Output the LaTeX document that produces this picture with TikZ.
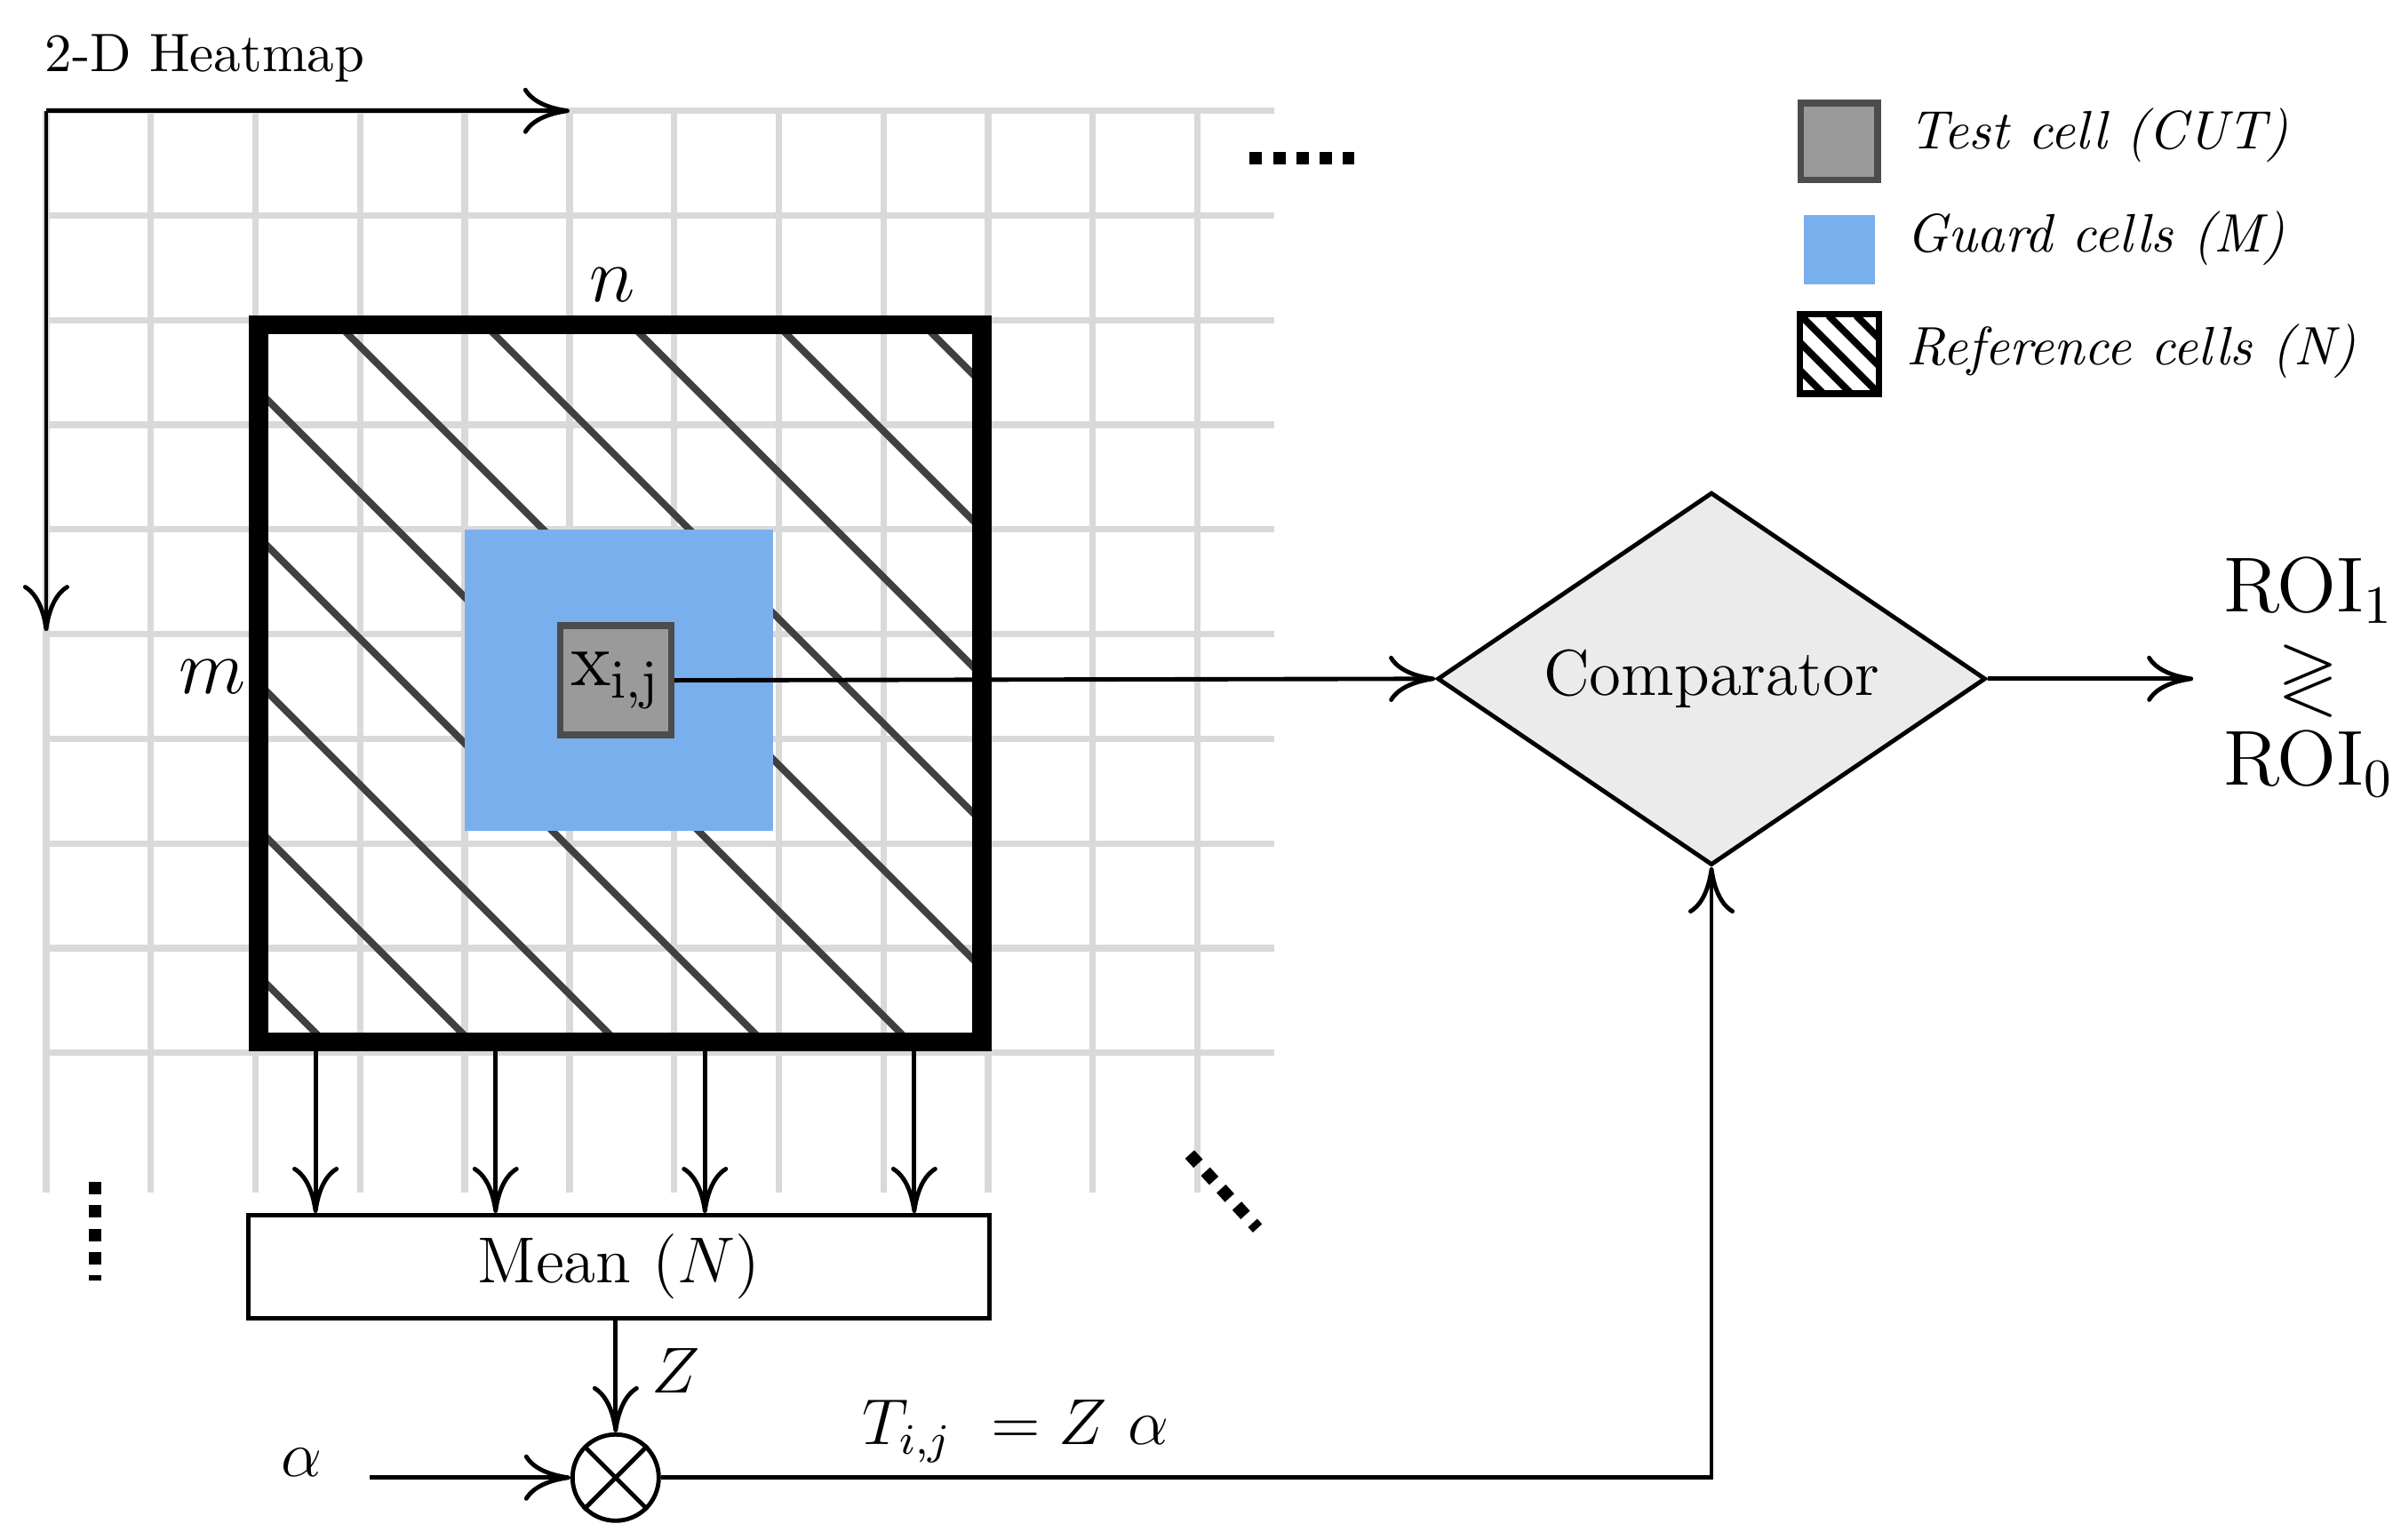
\documentclass[tikz,border=0pt]{standalone}
\usepackage{amsmath,amssymb}
\usetikzlibrary{shapes.geometric,arrows.meta}
\definecolor{guard}{HTML}{7AAFEE}
\definecolor{cut}{HTML}{9A9A9A}
\definecolor{comp}{HTML}{EBEBEB}
\begin{document}
\begin{tikzpicture}[x=0.01cm,y=-0.01cm,
        every node/.style={font=\large},
        arr/.style={-{To[length=3mm,width=3mm]},thick},
        grid/.style={line width=1.2pt,black!15},
        hatch/.style={line width=1.3pt,black!75},
        dots/.style={line width=2.3pt,dash pattern=on 2.3pt off 2pt},
        cell/.style={minimum width=0.5cm,minimum height=0.5cm,inner sep=0pt},
        leg/.style={anchor=west,font=\normalsize\itshape}]
      \useasboundingbox (0,0) rectangle (1560,1000);
      % grid of the heatmap
      \foreach \x in {30,98,...,778} \draw[grid] (\x,72) -- (\x,775);
      \foreach \y in {72,140,...,750} \draw[grid] (30,\y) -- (828,\y);
      % reference window
      \begin{scope}
        \clip (168,211) rectangle (638,677);
        \foreach \s in {-350,-255,...,600} \draw[hatch] (\s,211) -- ++(700,700);
      \end{scope}
      \node[fill=guard,minimum width=2cm,minimum height=1.96cm,inner sep=0pt] (guard) at (402,442) {};
      \node[draw=black!70,very thick,fill=cut,minimum width=0.72cm,minimum height=0.71cm,inner sep=0pt] (x) at (400,442) {\Large$\mathrm{x}_{\mathrm{i,j}}$};
      \draw[line width=3.5pt] (168,211) rectangle (638,677);
      \coordinate (w1) at (205,677); \coordinate (w2) at (322,677);
      \coordinate (w3) at (458,677); \coordinate (w4) at (594,677);
      % axes and labels
      \coordinate (o) at (30,72);
      \coordinate (ox) at (370,72); \coordinate (oy) at (30,410);
      \draw[arr] (o) -- (ox); \draw[arr] (o) -- (oy);
      \node[font=\normalsize] (title) at (133,38) {2-D Heatmap};
      \node[font=\Large] (n) at (398,185) {$n$};
      \node[font=\Large] (m) at (138,440) {$m$};
      \draw[dots] (812,103) -- (880,103);
      \draw[dots] (62,768) -- (62,832);
      \draw[dots] (773,750) -- (817,798);
      % mean and threshold
      \node[draw,thick,minimum width=4.81cm,minimum height=0.67cm] (mean) at (402,823) {Mean $(N)$};
      \foreach \i in {1,...,4} \draw[arr] (w\i) -- (w\i |- mean.north);
      \node[draw,thick,circle,minimum size=0.56cm,inner sep=0pt] (mul) at (400,960) {};
      \draw[thick] (mul.north east) -- (mul.south west) (mul.north west) -- (mul.south east);
      \draw[arr] (mean.south -| mul) -- (mul.north) node[pos=0.45,right=3pt] {$Z$};
      \node (alpha) at (196,950) {$\alpha$};
      \coordinate (a0) at (240,960);
      \draw[arr] (a0) -- (mul.west);
      \node (thr) at (660,930) {$T_{i,j}\ = Z\ \alpha$};
      % comparator
      \node[draw,thick,diamond,fill=comp,aspect=1.47,minimum width=3.56cm,minimum height=2.42cm,inner sep=0pt] (comp) at (1112,441) {Comparator};
      \draw[arr] (x.east) -- (comp.west);
      \draw[arr] (mul.east) -| (comp.south);
      \coordinate (out) at (1425,441);
      \draw[arr] (comp.east) -- (out);
      \node[font=\Large] (roi) at (1500,441) {$\begin{array}{c}\mathrm{ROI}_1\\[-2pt]\gtrless\\[-2pt]\mathrm{ROI}_0\end{array}$};
      % legend
      \node[draw=black!70,very thick,fill=cut,cell] (l1) at (1195,92) {};
      \node[fill=guard,minimum width=0.46cm,minimum height=0.45cm,inner sep=0pt] (l2) at (1195,162) {};
      \node[cell] (l3) at (1195,230) {};
      \begin{scope}
        \clip (l3.south west) rectangle (l3.north east);
        \foreach \s in {-36,-18,...,36} \draw[line width=1.3pt] (1170+\s,205) -- ++(60,60);
      \end{scope}
      \draw[very thick] (l3.south west) rectangle (l3.north east);
      \node[leg] (t1) at (1228,88) {Test cell (CUT)};
      \node[leg] (t2) at (1226,155) {Guard cells (M)};
      \node[leg] (t3) at (1226,228) {Reference cells (N)};
\end{tikzpicture}
\end{document}
